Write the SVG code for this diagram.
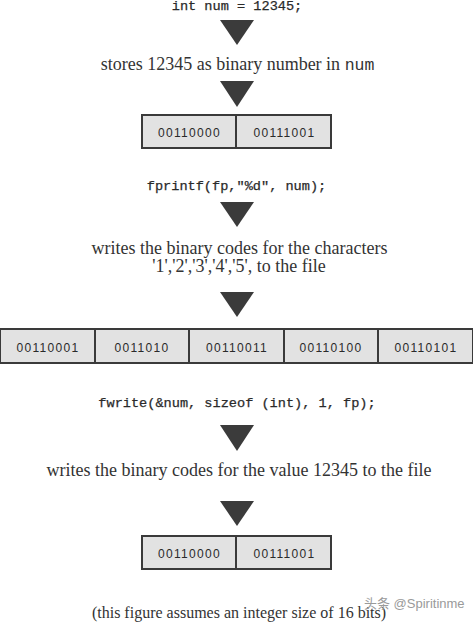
<svg xmlns="http://www.w3.org/2000/svg" width="473" height="625" viewBox="0 0 473 625">
<defs>
<style>
.code{font-family:"Liberation Mono","Courier New",monospace;font-size:13.6px;fill:#2a2a2a;stroke:#2a2a2a;stroke-width:0.25;text-anchor:middle}
.serif{font-family:"Liberation Serif","Times New Roman",serif;font-size:18px;fill:#333;text-anchor:middle}
.note{font-family:"Liberation Serif","Times New Roman",serif;font-size:16px;fill:#333;text-anchor:middle}
.cell{fill:#e2e2e2;stroke:#3a3a3a;stroke-width:2}
.div{stroke:#3a3a3a;stroke-width:2}
.bits{font-family:"Liberation Sans",Arial,sans-serif;font-size:12px;letter-spacing:1.3px;fill:#2a2a2a;text-anchor:middle}
.tri{fill:#3b3b3b}
.mark{font-family:"Liberation Sans","Noto Sans CJK SC",sans-serif;font-size:13px;fill:#9a9a9a}
</style>
</defs>
<rect width="473" height="625" fill="#fff"/>
<g id="connectors">
<polygon class="tri" points="220,20 254,20 237,45"/>
<polygon class="tri" points="220,81 254,81 237,107"/>
<polygon class="tri" points="220,202 254,202 237,227"/>
<polygon class="tri" points="220,292 254,292 237,317"/>
<polygon class="tri" points="220,425 254,425 237,451"/>
<polygon class="tri" points="220,501 254,501 237,526"/>
</g>
<g id="decl"><text class="code" x="237" y="9.5">int num = 12345;</text></g>
<g id="stores"><text class="serif" x="237.5" y="70">stores 12345 as binary number in <tspan font-family="Liberation Mono,monospace" font-size="16.5">num</tspan></text></g>
<g id="box1">
<rect class="cell" x="142" y="115" width="189" height="33"/>
<line class="div" x1="236" y1="115" x2="236" y2="148"/>
<text class="bits" x="189.5" y="137">00110000</text>
<text class="bits" x="284.5" y="137">00111001</text>
</g>
<g id="fprintf"><text class="code" x="236.5" y="190">fprintf(fp,"%d", num);</text></g>
<g id="writes-chars"><text class="serif" x="239.5" y="254">writes the binary codes for the characters</text>
<text class="serif" x="239" y="271.5">'1','2','3','4','5', to the file</text></g>
<g id="box2">
<rect class="cell" x="0" y="329" width="473" height="34"/>
<line class="div" x1="95" y1="329" x2="95" y2="363"/>
<line class="div" x1="189" y1="329" x2="189" y2="363"/>
<line class="div" x1="284" y1="329" x2="284" y2="363"/>
<line class="div" x1="378" y1="329" x2="378" y2="363"/>
<text class="bits" x="48" y="352">00110001</text>
<text class="bits" x="142" y="352">0011010</text>
<text class="bits" x="237" y="352">00110011</text>
<text class="bits" x="331" y="352">00110100</text>
<text class="bits" x="426" y="352">00110101</text>
</g>
<g id="fwrite"><text class="code" x="237" y="407">fwrite(&amp;num, sizeof (int), 1, fp);</text></g>
<g id="writes-value"><text class="serif" x="239" y="476">writes the binary codes for the value 12345 to the file</text></g>
<g id="box3">
<rect class="cell" x="142" y="536" width="189" height="33"/>
<line class="div" x1="236" y1="536" x2="236" y2="569"/>
<text class="bits" x="189.5" y="558">00110000</text>
<text class="bits" x="284.5" y="558">00111001</text>
</g>
<g id="note"><text class="note" x="239" y="617.5">(this figure assumes an integer size of 16 bits)</text></g>
<g id="watermark"><text class="mark" x="364" y="608">头条 @Spiritinme</text></g>
</svg>
